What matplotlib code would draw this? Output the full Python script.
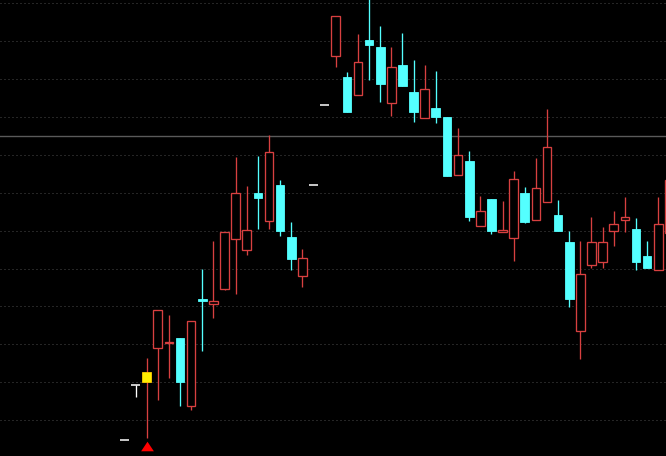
import matplotlib
matplotlib.use("Agg")
import matplotlib.pyplot as plt
from matplotlib.patches import Rectangle

# daily bars, oldest first (price units, grid step = 1.0)
opens = [9.47, 10.92, 10.99, 11.91, 12.03, 12.17, 10.38, 13.19, 13.07, 13.47,
         14.77, 14.50, 16.00, 15.25, 16.21, 14.83, 13.80, 16.20, 18.31, 19.60,
         19.06, 18.59, 20.04, 19.85, 18.38, 19.38, 18.66, 17.98, 18.24, 18.00,
         16.48, 16.84, 15.11, 15.84, 14.96, 14.80, 16.00, 15.29, 15.75, 15.42,
         14.70, 12.36, 14.08, 14.18, 15.00, 15.29, 15.05, 14.33, 13.95, 14.95]
highs = [9.47, 10.92, 11.64, 12.90, 12.77, 12.17, 12.61, 13.99, 14.73, 14.97,
         16.95, 16.18, 16.97, 17.53, 16.34, 15.23, 14.52, 16.20, 18.31, 20.67,
         19.20, 20.20, 21.20, 20.41, 19.85, 20.22, 19.51, 19.38, 19.22, 18.00,
         17.71, 17.11, 15.92, 15.84, 15.78, 16.58, 16.15, 16.92, 18.21, 15.81,
         14.99, 14.73, 15.36, 15.10, 15.52, 15.89, 15.34, 14.73, 15.89, 16.90]
lows = [9.47, 10.61, 9.53, 10.54, 11.12, 10.37, 10.27, 11.83, 12.70, 13.42,
        13.34, 14.36, 15.05, 15.05, 14.87, 13.97, 13.52, 16.20, 18.31, 19.33,
        18.12, 18.59, 18.99, 18.41, 18.03, 18.83, 17.88, 17.98, 17.83, 16.43,
        16.48, 15.26, 15.11, 14.92, 14.96, 14.21, 15.19, 15.29, 15.75, 15.00,
        12.99, 11.62, 14.02, 14.02, 14.60, 14.97, 13.97, 14.02, 13.95, 14.90]
closes = [9.47, 10.92, 11.27, 12.90, 12.06, 11.01, 12.61, 13.14, 13.14, 14.97,
          16.00, 15.02, 15.87, 17.08, 15.00, 14.26, 14.28, 16.20, 18.31, 20.67,
          18.12, 19.46, 19.89, 18.86, 19.32, 18.83, 18.14, 18.74, 18.01, 16.43,
          16.99, 15.37, 15.51, 15.00, 15.02, 16.37, 15.24, 16.13, 17.21, 15.00,
          13.20, 13.85, 14.70, 14.70, 15.18, 15.36, 14.16, 14.02, 15.18, 16.34]

highlight_bar = 2          # bar drawn with a yellow body
buy_bars = [2]
buy_levels = [9.31]
grid_levels = [10, 11, 12, 13, 14, 15, 16, 17, 18, 19, 20, 21]
ref_level = 17.5

UP = "#d84040"
DOWN = "#54ffff"
FLAT = "#ffffff"
BODY_W = 0.78
LW = 0.95

fig = plt.figure(figsize=(6.66, 4.561), dpi=100)
fig.patch.set_facecolor("black")
ax = fig.add_axes([0, 0, 1, 1])
ax.set_facecolor("black")

for lvl in grid_levels:
    ax.axhline(lvl, color="#4a4a4a", lw=0.72, ls=(0, (1, 3)), zorder=0)
ax.axhline(ref_level, color="#5a5a5a", lw=1.0, zorder=0)

for i, (o, h, l, c) in enumerate(zip(opens, highs, lows, closes)):
    x0 = i - BODY_W / 2
    if i == highlight_bar:
        ax.vlines(i, l, h, color=UP, lw=LW, zorder=2)
        ax.add_patch(Rectangle((x0, min(o, c)), BODY_W, abs(c - o),
                               facecolor="#ffee00", edgecolor="#ffcc00",
                               lw=0.6, zorder=3))
    elif c > o:
        ax.vlines(i, l, h, color=UP, lw=LW, zorder=2)
        ax.add_patch(Rectangle((x0, o), BODY_W, c - o, facecolor="black",
                               edgecolor=UP, lw=LW, zorder=3))
    elif c < o:
        ax.vlines(i, l, h, color=DOWN, lw=LW, zorder=2)
        ax.add_patch(Rectangle((x0, c), BODY_W, o - c, facecolor=DOWN,
                               edgecolor=DOWN, lw=0.6, zorder=3))
    else:
        ax.vlines(i, l, h, color=FLAT, lw=LW, zorder=2)
        ax.hlines(o, x0, x0 + BODY_W, color=FLAT, lw=1.1, zorder=3)

tri = [(-1, -0.75), (1, -0.75), (0, 0.75)]
ax.plot(buy_bars, buy_levels, ls="none", marker=tri, ms=9.2,
        color="#ff0000", markeredgewidth=0, zorder=4)

ax.set_xlim(-11.19, 48.70)
ax.set_ylim(9.049, 21.093)
ax.axis("off")

fig.savefig("out.png", dpi=100, facecolor="black")
